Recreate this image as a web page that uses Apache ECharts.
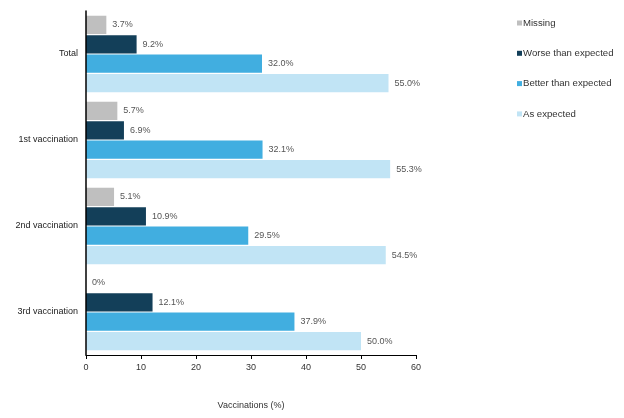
<!DOCTYPE html>
<html><head><meta charset="utf-8">
<script src="https://cdn.jsdelivr.net/npm/echarts@6/dist/echarts.min.js"></script>
<style>html,body{margin:0;padding:0;background:#fff}#c{width:624px;height:418px}</style>
</head><body><div id="c"></div>
<script>
const categories = ['Total', '1st vaccination', '2nd vaccination', '3rd vaccination'];
const seriesNames = ['Missing', 'Worse than expected', 'Better than expected', 'As expected'];
const missing = [3.7, 5.7, 5.1, 0];
const worse = [9.2, 6.9, 10.9, 12.1];
const better = [32.0, 32.1, 29.5, 37.9];
const asExpected = [55.0, 55.3, 54.5, 50.0];
const xTicks = [0, 10, 20, 30, 40, 50, 60];
const colors = ['#bfbfbf', '#133f59', '#41aee0', '#c1e4f5'];
const values = [missing, worse, better, asExpected];

const chart = echarts.init(document.getElementById('c'));
const font = 'Liberation Sans, Arial, sans-serif';
chart.setOption({
  animation: false,
  textStyle: { fontFamily: font },
  grid: { left: 86, right: 208, top: 11, bottom: 63 },
  legend: {
    orient: 'vertical', left: 512, top: 13, itemGap: 20.3,
    itemWidth: 5, itemHeight: 5, icon: 'rect',
    textStyle: { fontSize: 9.6, color: '#333', fontFamily: font, padding: [0, 0, 0, -4] },
    data: seriesNames
  },
  xAxis: {
    type: 'value', min: 0, max: 60, interval: 10,
    name: 'Vaccinations (%)', nameLocation: 'middle', nameGap: 46,
    nameTextStyle: { fontSize: 9, color: '#333' },
    axisLine: { show: true, lineStyle: { color: '#000', width: 1 } },
    axisTick: { show: true, length: 4, lineStyle: { color: '#000' } },
    axisLabel: { fontSize: 9, color: '#333', margin: 8, formatter: v => xTicks.includes(v) ? String(v) : '' },
    splitLine: { show: false }
  },
  yAxis: {
    type: 'category', data: categories, inverse: true, z: 5,
    axisLine: { show: true, lineStyle: { color: '#000', width: 1.5 } },
    axisTick: { show: false },
    axisLabel: { fontSize: 9, color: '#222', margin: 8 }
  },
  series: seriesNames.map((n, i) => ({
    name: n, type: 'bar', data: values[i],
    barGap: '6%', barCategoryGap: '11%',
    itemStyle: { color: colors[i] },
    label: { show: true, position: 'right', distance: 6, fontSize: 9, color: '#555',
      formatter: p => p.value === 0 ? '0%' : p.value.toFixed(1) + '%' }
  }))
});
</script></body></html>
